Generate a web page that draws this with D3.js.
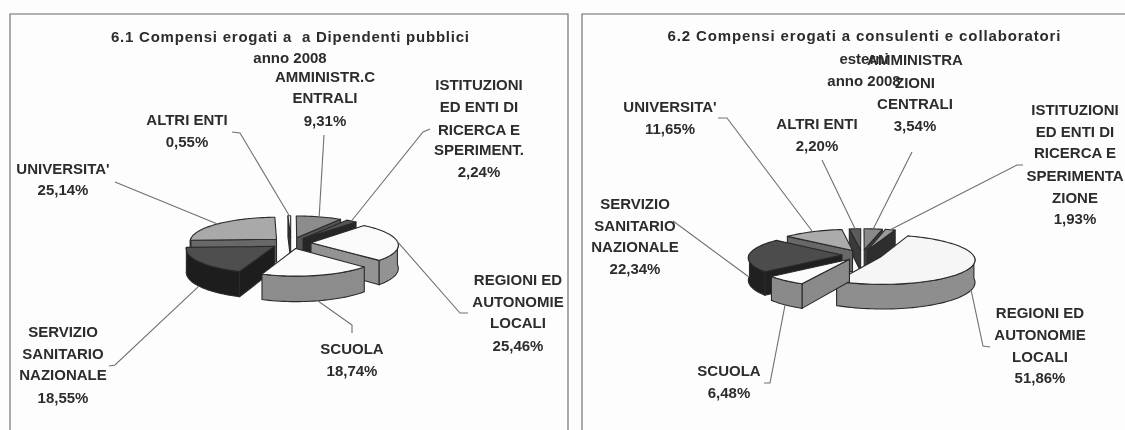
<!DOCTYPE html>
<html><head><meta charset="utf-8">
<script src="https://cdn.jsdelivr.net/npm/d3@7"></script>
<style>html,body{margin:0;padding:0;background:#fdfdfd}svg{display:block;filter:blur(.45px)}
text{font-family:"Liberation Sans",Arial,sans-serif;font-weight:700;fill:#2c2c2c;text-anchor:middle;dominant-baseline:central}</style>
</head><body><svg id="c" width="1125" height="430"></svg>
<script>
// ---- data ----
const categories1 = ["AMMINISTR.C ENTRALI","ISTITUZIONI ED ENTI DI RICERCA E SPERIMENT.","REGIONI ED AUTONOMIE LOCALI","SCUOLA","SERVIZIO SANITARIO NAZIONALE","UNIVERSITA'","ALTRI ENTI"];
const values1 = [9.31,2.24,25.46,18.74,18.55,25.14,0.55];
const categories2 = ["AMMINISTRAZIONI CENTRALI","ISTITUZIONI ED ENTI DI RICERCA E SPERIMENTAZIONE","REGIONI ED AUTONOMIE LOCALI","SCUOLA","SERVIZIO SANITARIO NAZIONALE","UNIVERSITA'","ALTRI ENTI"];
const values2 = [3.54,1.93,51.86,6.48,22.34,11.65,2.20];
const valueLabels1 = ["9,31%","2,24%","25,46%","18,74%","18,55%","25,14%","0,55%"];
const valueLabels2 = ["3,54%","1,93%","51,86%","6,48%","22,34%","11,65%","2,20%"];
const title1 = ["6.1 Compensi erogati a  a Dipendenti pubblici","anno 2008"];
const title2 = ["6.2 Compensi erogati a consulenti e collaboratori","esterni","anno 2008"];

// ---- presentation ----
const topFill1 = ["#8c8c8c","#555","#fafafa","#fbfbfb","#4e4e4e","#a9a9a9","#eee"];
const sideFill1= ["#555","#262626","#939393","#8c8c8c","#1d1d1d","#686868","#333"];
const topFill2 = ["#8a8a8a","#9a9a9a","#f6f6f6","#fbfbfb","#4c4c4c","#ababab","#5c5c5c"];
const sideFill2= ["#3d3d3d","#2e2e2e","#8e8e8e","#8a8a8a","#202020","#686868","#3a3a3a"];
const geo1 = {cx:291,cy:243,R:87,e:20,k:.28,p:.1,d:23,top:topFill1,side:sideFill1};
const geo2 = {cx:862,cy:255,R:93,e:20,k:.26,p:.12,d:22,top:topFill2,side:sideFill2};
// label lines: centre x, centre y of every line, leader: elbow points from the label side
const labels1 = [
 {x:325,lines:["AMMINISTR.C","ENTRALI"],ys:[76,97,120],leader:[[324,135]]},
 {x:479,lines:["ISTITUZIONI","ED ENTI DI","RICERCA E","SPERIMENT."],ys:[84,106,129,149,171],leader:[[430,129],[423,132]]},
 {x:518,lines:["REGIONI ED","AUTONOMIE","LOCALI"],ys:[279,301,322,345],leader:[[468,313],[460,313]]},
 {x:352,lines:["SCUOLA"],ys:[348,370],leader:[[352,333],[352,325]]},
 {x:63,lines:["SERVIZIO","SANITARIO","NAZIONALE"],ys:[331,353,374,397],leader:[[109,366],[115,365]]},
 {x:63,lines:["UNIVERSITA'"],ys:[168,189],leader:[[115,182]]},
 {x:187,lines:["ALTRI ENTI"],ys:[119,141],leader:[[232,132],[240,133]]}
];
const labels2 = [
 {x:915,lines:["AMMINISTRA","ZIONI","CENTRALI"],ys:[59,82,103,125],leader:[[912,152]]},
 {x:1075,lines:["ISTITUZIONI","ED ENTI DI","RICERCA E","SPERIMENTA","ZIONE"],ys:[109,131,152,175,197,218],leader:[[1023,165],[1017,165]]},
 {x:1040,lines:["REGIONI ED","AUTONOMIE","LOCALI"],ys:[312,334,356,377],leader:[[990,347],[983,346]]},
 {x:729,lines:["SCUOLA"],ys:[370,392],leader:[[764,383],[770,383]]},
 {x:635,lines:["SERVIZIO","SANITARIO","NAZIONALE"],ys:[203,225,246,268],leader:[[673,221]]},
 {x:670,lines:["UNIVERSITA'"],ys:[106,128],leader:[[718,118],[727,118]]},
 {x:817,lines:["ALTRI ENTI"],ys:[123,145],leader:[[822,160]]}
];

const svg = d3.select("#c");
// frames
const frame = d3.path();
frame.moveTo(10,430);frame.lineTo(10,14);frame.lineTo(568,14);frame.lineTo(568,430);
frame.moveTo(582,430);frame.lineTo(582,14);frame.lineTo(1125,14);
svg.append("path").attr("d",frame.toString()).attr("fill","none").attr("stroke","#666").attr("stroke-width",1.1);

function title(lines,cx,ys,w){
  lines.forEach((t,i)=>{
    const s=svg.append("text").attr("x",cx).attr("y",ys[i]).attr("font-size",15).text(t);
    s.style("white-space","pre");
    if(i===0) s.attr("textLength",w).attr("lengthAdjust","spacing");
  });
}

function drawPie(values,geo,labels,valueLabels){
  const g = svg.append("g");
  const arcs = d3.pie().sort(null).startAngle(0).endAngle(2*Math.PI)(values);
  const lim = geo.R+geo.e;
  const proj = (X,Y,z)=>{ const s=1/(1+geo.p*Y/lim); return [geo.cx+X*s, geo.cy-geo.k*Y*s+z*geo.d*s]; };
  const line = d3.line();
  const slices = arcs.map((a,i)=>{
    const mid=(a.startAngle+a.endAngle)/2;
    const ox=geo.e*Math.sin(mid), oy=geo.e*Math.cos(mid);
    const pt=(t,r,z)=>proj(ox+r*Math.sin(t),oy+r*Math.cos(t),z);
    return {a,i,mid,pt,ox,oy,depth:oy+geo.R*Math.cos(mid)*.5};
  });
  slices.slice().sort((p,q)=>q.depth-p.depth).forEach(s=>{
    const {a,i,pt}=s, a0=a.startAngle,a1=a.endAngle;
    const step=Math.max(2,Math.ceil((a1-a0)/.04));
    const ts=d3.range(step+1).map(j=>a0+(a1-a0)*j/step);
    const style=p=>p.attr("stroke","#2a2a2a").attr("stroke-width",1.1).attr("stroke-linejoin","round");
    if(Math.sin(a0)<0) style(g.append("path").attr("fill",geo.side[i]).attr("d",line([pt(a0,0,0),pt(a0,geo.R,0),pt(a0,geo.R,1),pt(a0,0,1)])+"Z"));
    if(Math.sin(a1)>0) style(g.append("path").attr("fill",geo.side[i]).attr("d",line([pt(a1,0,0),pt(a1,geo.R,0),pt(a1,geo.R,1),pt(a1,0,1)])+"Z"));
    const front=ts.filter(t=>Math.cos(t)<.05);
    if(front.length>1){
      const wall=front.map(t=>pt(t,geo.R,0)).concat(front.slice().reverse().map(t=>pt(t,geo.R,1)));
      style(g.append("path").attr("fill",geo.side[i]).attr("d",line(wall)+"Z"));
    }
    const top=[pt(a0,0,0)].concat(ts.map(t=>pt(t,geo.R,0)));
    style(g.append("path").attr("fill",geo.top[i]).attr("d",line(top)+"Z"));
  });
  // leaders and labels
  labels.forEach((l,i)=>{
    const s=slices[i];
    const anchor=s.pt(s.mid,geo.R,Math.cos(s.mid)<0?1:0);
    svg.append("path").attr("fill","none").attr("stroke","#707070").attr("stroke-width",1.1)
      .attr("d",line(l.leader.concat([anchor])));
    l.lines.concat([valueLabels[i]]).forEach((t,j)=>{
      svg.append("text").attr("x",l.x).attr("y",l.ys[j]).attr("font-size",15).text(t);
    });
  });
}
drawPie(values1,geo1,labels1,valueLabels1);
drawPie(values2,geo2,labels2,valueLabels2);
title(title1,290,[36,57],358);
title(title2,864,[35,58,80],393);
</script></body></html>
